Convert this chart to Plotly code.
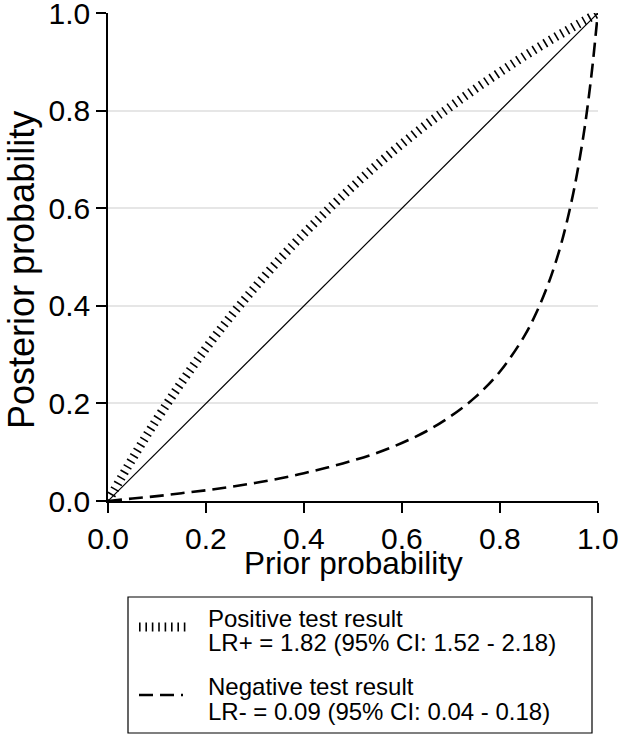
import plotly.graph_objects as go

# Data
prior = [0.0, 0.05, 0.1, 0.15, 0.2, 0.25, 0.3, 0.35, 0.4, 0.45, 0.5,
         0.55, 0.6, 0.65, 0.7, 0.75, 0.8, 0.85, 0.9, 0.95, 1.0]
post_positive = [0.0, 0.087, 0.168, 0.243, 0.313, 0.378, 0.438, 0.495, 0.548, 0.598, 0.645,
                 0.690, 0.732, 0.772, 0.809, 0.845, 0.879, 0.912, 0.943, 0.972, 1.0]
prior_neg = [0.0, 0.05, 0.1, 0.15, 0.2, 0.25, 0.3, 0.35, 0.4, 0.45, 0.5,
             0.55, 0.6, 0.65, 0.7, 0.75, 0.8, 0.85, 0.875, 0.9, 0.925, 0.95, 0.97, 0.98, 0.99, 1.0]
post_negative = [0.0, 0.005, 0.010, 0.016, 0.022, 0.029, 0.037, 0.046, 0.057, 0.069, 0.083,
                 0.099, 0.119, 0.143, 0.174, 0.213, 0.265, 0.338, 0.387, 0.448, 0.526, 0.631,
                 0.744, 0.815, 0.899, 1.0]
diag = [0.0, 1.0]

legend_lines = ["Positive test result", "LR+ = 1.82 (95% CI: 1.52 - 2.18)",
                "Negative test result", "LR- = 0.09 (95% CI: 0.04 - 0.18)"]
ticks = [0.0, 0.2, 0.4, 0.6, 0.8, 1.0]
tick_text = ["0.0", "0.2", "0.4", "0.6", "0.8", "1.0"]

FONT = "Liberation Sans, Arial, Helvetica, sans-serif"
W, H = 620, 736
L, R, T, B = 108, 22, 13, 235
pw, ph = W - L - R, H - T - B


def px_x(px):
    return (px - L) / pw


def px_y(py):
    return (H - B - py) / ph


HATCH = dict(color="black", width=9, dash="1.6px,4.8px")
DASH = dict(color="black", width=2.6, dash="14px,7px")

fig = go.Figure()
fig.add_trace(go.Scatter(x=diag, y=diag, mode="lines",
                         line=dict(color="black", width=1.2),
                         showlegend=False, cliponaxis=False))
fig.add_trace(go.Scatter(x=prior, y=post_positive, mode="lines", line_shape="spline",
                         line=HATCH, showlegend=False, cliponaxis=False, name=legend_lines[0]))
fig.add_trace(go.Scatter(x=prior_neg, y=post_negative, mode="lines", line_shape="spline",
                         line=DASH, showlegend=False, cliponaxis=False, name=legend_lines[2]))

axis_common = dict(tickvals=ticks, ticktext=tick_text, ticks="outside",
                   ticklen=10, tickwidth=1.5, tickcolor="black", showline=True,
                   linecolor="black", linewidth=1.5, zeroline=False, automargin=False,
                   ticklabeloverflow="allow",
                   tickfont=dict(family=FONT, size=30, color="black"))

fig.update_xaxes(**axis_common, range=[0, 1.0005], showgrid=False)
fig.update_yaxes(**axis_common, range=[0, 1.0005], showgrid=True,
                 gridcolor="#e6e6e6", gridwidth=2)

annotations = [
    dict(text="Prior probability", x=0.5, y=px_y(563), xref="paper", yref="paper",
         showarrow=False, xanchor="center", yanchor="middle",
         font=dict(family=FONT, size=31.5, color="black")),
    dict(text="Posterior probability", x=px_x(21), y=px_y(270), xref="paper", yref="paper",
         showarrow=False, xanchor="center", yanchor="middle", textangle=-90,
         font=dict(family=FONT, size=36, color="black")),
]
for txt, cy in zip(legend_lines, [617, 641, 685, 710]):
    annotations.append(dict(text=txt, x=px_x(206), y=px_y(cy + 1), xref="paper", yref="paper",
                            showarrow=False, xanchor="left", yanchor="middle",
                            font=dict(family=FONT, size=24, color="black")))

shapes = [
    dict(type="rect", xref="paper", yref="paper", x0=px_x(128), x1=px_x(592),
         y0=px_y(733), y1=px_y(597), line=dict(color="black", width=1.2)),
    dict(type="line", xref="paper", yref="paper", x0=px_x(139), x1=px_x(189),
         y0=px_y(627), y1=px_y(627), line=HATCH),
    dict(type="line", xref="paper", yref="paper", x0=px_x(139), x1=px_x(183),
         y0=px_y(695), y1=px_y(695), line=DASH),
]

fig.update_layout(width=W, height=H, margin=dict(l=L, r=R, t=T, b=B), autosize=False,
                  plot_bgcolor="white", paper_bgcolor="white",
                  annotations=annotations, shapes=shapes, showlegend=False,
                  font=dict(family=FONT, color="black"))

fig.write_html(
    "out.html",
    config={"displayModeBar": False, "responsive": False},
    post_script=(
        "document.body.style.margin='0px';"
        "document.body.style.overflow='hidden';"
        "document.documentElement.style.overflow='hidden';"
    ),
)
